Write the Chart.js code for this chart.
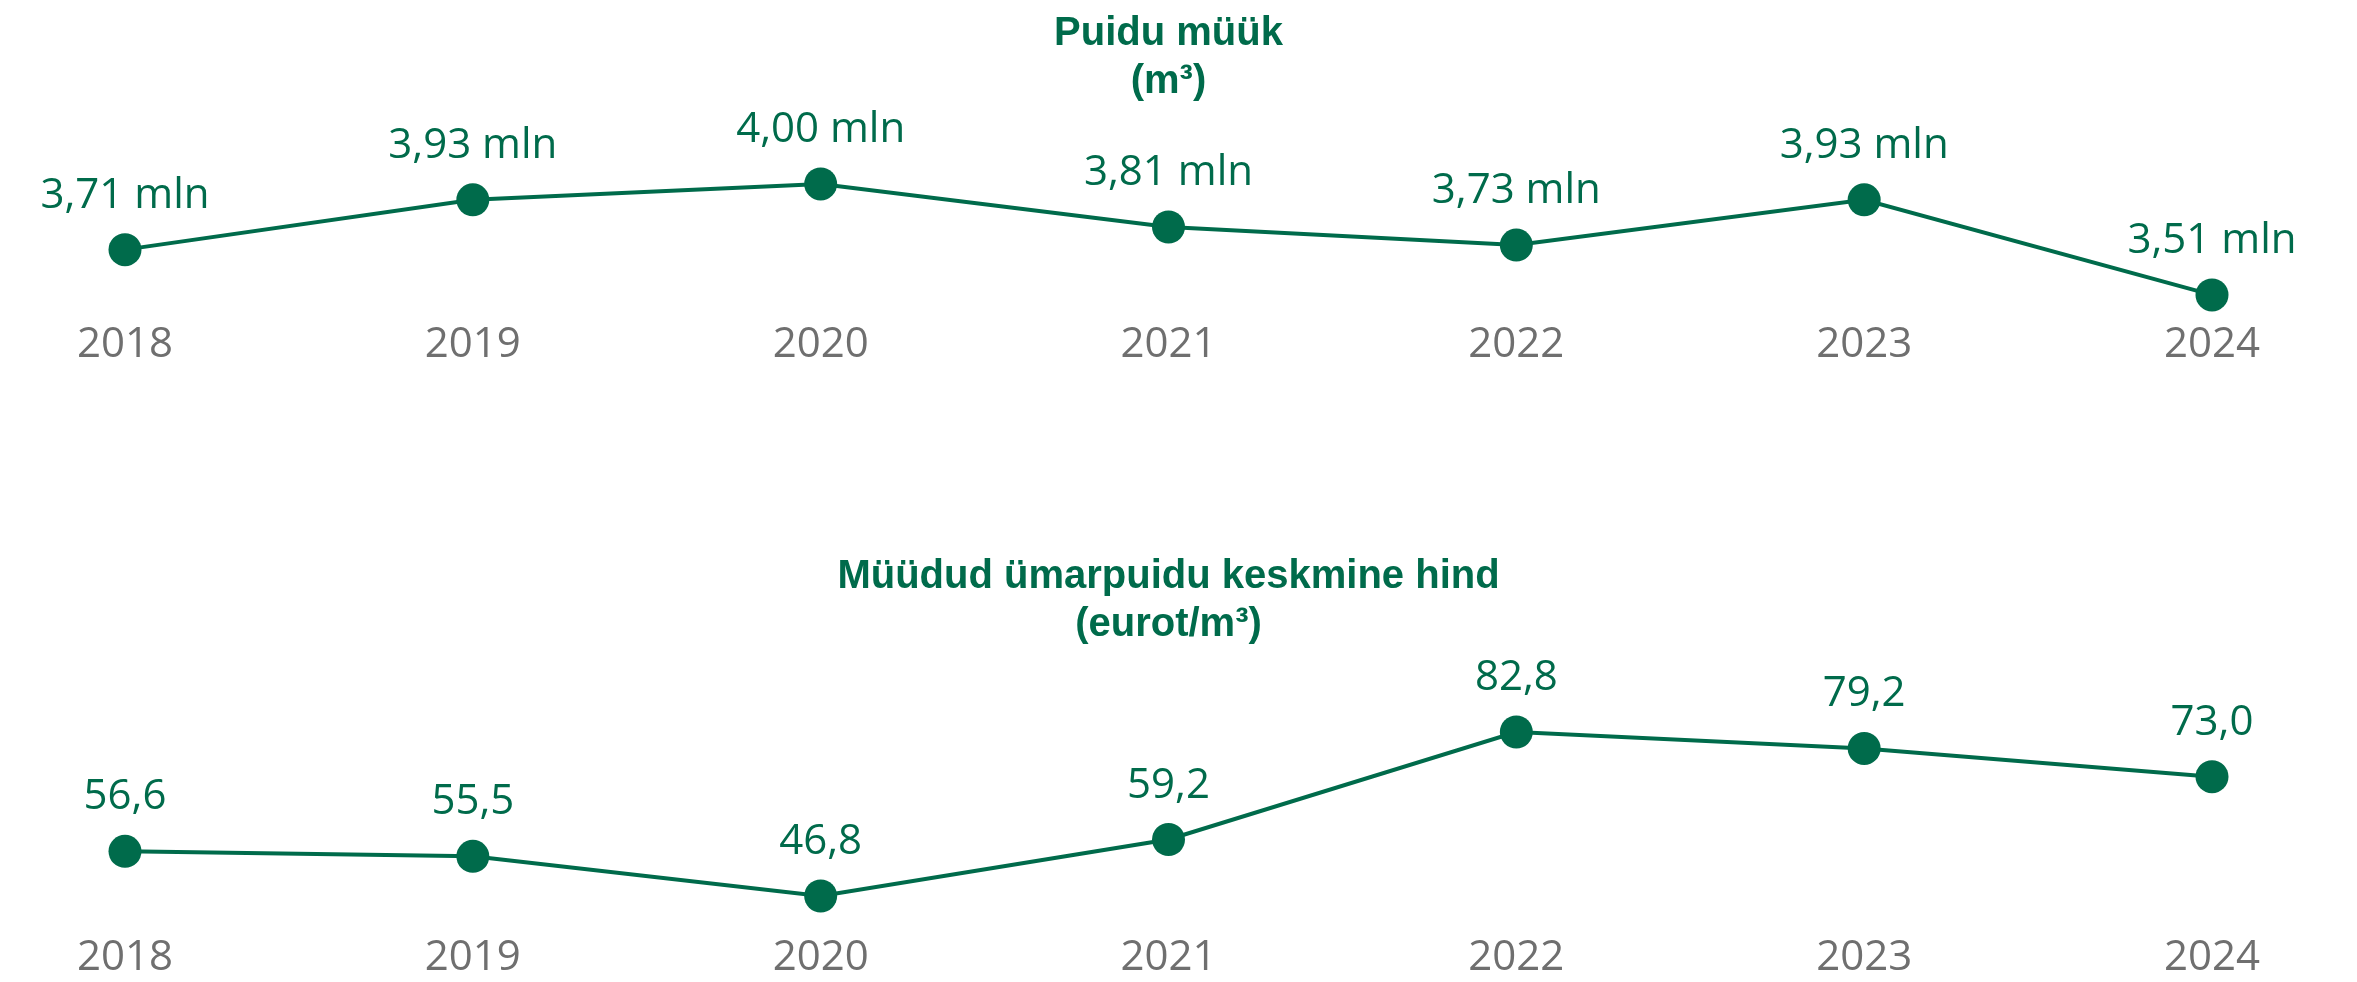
<!DOCTYPE html>
<html><head><meta charset="utf-8">
<script src="https://cdn.jsdelivr.net/npm/chart.js@4"></script>
<style>
html,body{margin:0;padding:0;background:#fff;width:2357px;height:982px;overflow:hidden}
.box{position:absolute;left:0;width:2357px}
#b1{top:0;height:491px}
#b2{top:491px;height:491px}
</style></head><body>
<div class="box" id="b1"><canvas id="c1"></canvas></div>
<div class="box" id="b2"><canvas id="c2"></canvas></div>
<script>
const years = ['2018', '2019', '2020', '2021', '2022', '2023', '2024'];
const salesVolume = [3.71, 3.93, 4.00, 3.81, 3.73, 3.93, 3.51];   // mln m³
const avgPrice = [56.6, 55.5, 46.8, 59.2, 82.8, 79.2, 73.0];      // eurot/m³
const title1 = ['Puidu müük', '(m³)'];
const title2 = ['Müüdud ümarpuidu keskmine hind', '(eurot/m³)'];

const GREEN = '#006b4b';
const GRAY = '#6f6f6f';

function makeLabels(fmt) {
  return {
    id: 'valueLabels',
    afterDatasetsDraw(chart) {
      const ctx = chart.ctx;
      const meta = chart.getDatasetMeta(0);
      const vals = chart.data.datasets[0].data;
      ctx.save();
      ctx.font = '42px "Open Sans"';
      ctx.fillStyle = GREEN;
      ctx.textAlign = 'center';
      ctx.textBaseline = 'alphabetic';
      meta.data.forEach((pt, i) => {
        ctx.fillText(fmt(vals[i]), pt.x, pt.y - 42);
      });
      ctx.restore();
    }
  };
}

function makeChart(id, values, title, fmt, cfg) {
  return new Chart(document.getElementById(id), {
    type: 'line',
    data: {
      labels: years,
      datasets: [{
        data: values,
        borderColor: GREEN,
        borderWidth: 4,
        pointRadius: 16.5,
        pointHoverRadius: 16.5,
        pointBackgroundColor: GREEN,
        pointBorderWidth: 0,
        tension: 0,
        fill: false,
        clip: false
      }]
    },
    options: {
      responsive: true,
      maintainAspectRatio: false,
      animation: false,
      events: [],
      layout: { padding: { left: 125, right: 145, top: 0, bottom: cfg.padBottom } },
      plugins: {
        legend: { display: false },
        tooltip: { enabled: false },
        title: {
          display: true,
          text: title,
          color: GREEN,
          font: { family: 'Liberation Sans', weight: 'bold', size: 40, lineHeight: 1.2 },
          padding: { top: cfg.titleTop, bottom: cfg.titleBottom }
        }
      },
      scales: {
        x: {
          grid: { display: false, drawTicks: false },
          border: { display: false },
          ticks: {
            color: GRAY,
            font: { family: 'Open Sans', size: 42, lineHeight: 1 },
            padding: cfg.tickPad,
            maxRotation: 0,
            autoSkip: false
          }
        },
        y: { display: false, min: cfg.min, max: cfg.max }
      }
    },
    plugins: [makeLabels(fmt)]
  });
}

makeChart('c1', salesVolume, title1,
  v => v.toFixed(2).replace('.', ',') + ' mln',
  { titleTop: 10, titleBottom: 10, min: 3.4, max: 4.3, tickPad: 4, padBottom: 121.15 });

makeChart('c2', avgPrice, title2,
  v => v.toFixed(1).replace('.', ','),
  { titleTop: 62, titleBottom: 50.2, min: 37.8, max: 90, tickPad: 0, padBottom: 3 });
</script>
</body></html>
